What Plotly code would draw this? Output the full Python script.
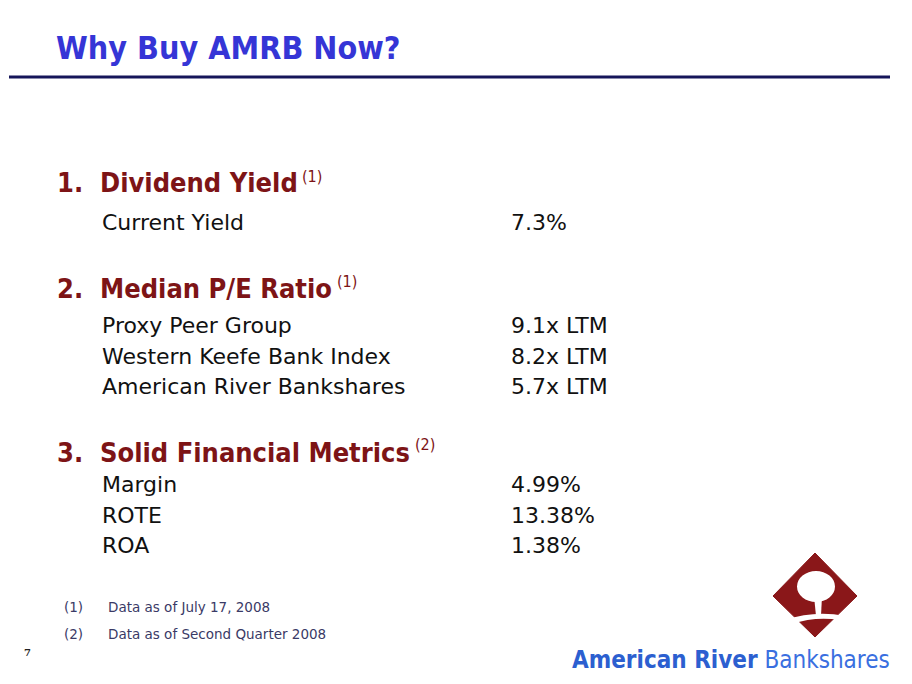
import plotly.graph_objects as go

W, H = 912, 684

title = "Why Buy AMRB Now?"
section_titles = ["1.  Dividend Yield", "2.  Median P/E Ratio", "3.  Solid Financial Metrics"]
section_notes = ["(1)", "(1)", "(2)"]
section_y = [183, 288, 452]
item_labels = ["Current Yield", "Proxy Peer Group", "Western Keefe Bank Index",
               "American River Bankshares", "Margin", "ROTE", "ROA"]
item_values = ["7.3%", "9.1x LTM", "8.2x LTM", "5.7x LTM", "4.99%", "13.38%", "1.38%"]
item_y = [222, 325, 356, 386, 484, 515, 545]
footnote_marks = ["(1)", "(2)"]
footnote_texts = ["Data as of July 17, 2008", "Data as of Second Quarter 2008"]
footnote_y = [607, 634]
page_number = "7"

COND = "DejaVu Sans Condensed"
SANS = "DejaVu Sans"
RED = "#7d1416"
BLUE = "#3535d6"
OFF = 8  # page body margin offset

def py(p):
    return 1 - (p - OFF) / H

def px(p):
    return (p - OFF) / W

ann = []
ann.append(dict(x=px(54), y=py(48), text="<b>" + title + "</b>", xanchor="left", yanchor="middle",
                font=dict(family=COND, size=32, color=BLUE)))
for t, n, yy in zip(section_titles, section_notes, section_y):
    ann.append(dict(x=px(55), y=py(yy), text="<b>" + t + "</b>",
                    xanchor="left", yanchor="middle", font=dict(family=COND, size=27, color=RED)))
# superscript notes placed right after section titles
note_x = [300, 335, 413]
for n, xx, yy in zip(section_notes, note_x, section_y):
    ann.append(dict(x=px(xx), y=py(yy - 7), text=n, xanchor="left", yanchor="middle",
                    font=dict(family=COND, size=16, color=RED)))
for lab, val, yy in zip(item_labels, item_values, item_y):
    ann.append(dict(x=px(100), y=py(yy), text=lab, xanchor="left", yanchor="middle",
                    font=dict(family=SANS, size=22, color="#111111")))
    ann.append(dict(x=px(509), y=py(yy), text=val, xanchor="left", yanchor="middle",
                    font=dict(family=SANS, size=22, color="#111111")))
for m, t, yy in zip(footnote_marks, footnote_texts, footnote_y):
    ann.append(dict(x=px(62), y=py(yy), text=m, xanchor="left", yanchor="middle",
                    font=dict(family=SANS, size=13.5, color="#3a3a66")))
    ann.append(dict(x=px(106), y=py(yy), text=t, xanchor="left", yanchor="middle",
                    font=dict(family=SANS, size=13.5, color="#3a3a66")))
ann.append(dict(x=px(22), y=py(652), text="<b>" + page_number + "</b>", xanchor="left", yanchor="middle",
                font=dict(family="DejaVu Serif", size=10, color="#222222")))
ann.append(dict(x=px(570), y=py(660),
                text="<b>American River</b> <span style='color:#3a6fe0'>Bankshares</span>",
                xanchor="left", yanchor="middle",
                font=dict(family=COND, size=24, color="#2c5fd0")))

shapes = [
    dict(type="line", xref="paper", yref="paper", x0=px(9), x1=px(890), y0=py(77), y1=py(77),
         line=dict(color="#16165a", width=3)),
    # logo diamond
    dict(type="path", xref="paper", yref="paper",
         path=f"M {px(815)},{py(553)} L {px(857)},{py(596)} L {px(815)},{py(637)} L {px(773)},{py(596)} Z",
         fillcolor="#8a1719", line=dict(color="#8a1719", width=1)),
    # tree canopy
    dict(type="circle", xref="paper", yref="paper", x0=px(797), x1=px(835), y0=py(602), y1=py(571),
         fillcolor="white", line=dict(width=0)),
    # trunk
    dict(type="path", xref="paper", yref="paper",
         path=f"M {px(814)},{py(596)} L {px(822)},{py(596)} L {px(821)},{py(616)} L {px(816)},{py(616)} Z",
         fillcolor="white", line=dict(width=0)),
    # river/ground swoosh
    dict(type="path", xref="paper", yref="paper",
         path=f"M {px(785)},{py(620)} Q {px(815)},{py(610)} {px(845)},{py(616)} L {px(840)},{py(620)} Q {px(815)},{py(616)} {px(792)},{py(624)} Z",
         fillcolor="white", line=dict(width=0)),
]

fig = go.Figure()
fig.update_layout(
    width=W, height=H, margin=dict(l=0, r=0, t=0, b=0),
    paper_bgcolor="white", plot_bgcolor="white",
    xaxis=dict(visible=False, range=[0, 1]), yaxis=dict(visible=False, range=[0, 1]),
    annotations=[dict(a, xref="paper", yref="paper", showarrow=False) for a in ann],
    shapes=shapes, showlegend=False,
)
fig.write_html("out.html")
